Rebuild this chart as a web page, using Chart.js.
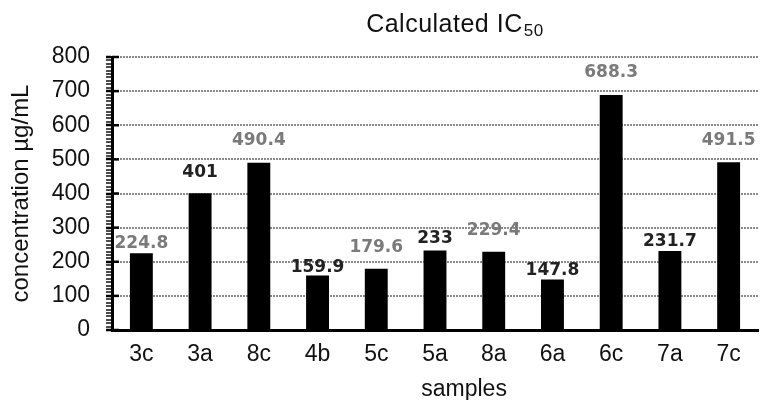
<!DOCTYPE html>
<html>
<head>
<meta charset="utf-8">
<script src="https://cdn.jsdelivr.net/npm/chart.js@4"></script>
<style>
  body { margin: 0; background: #fff; }
</style>
</head>
<body>
<canvas id="ic50Chart" width="770" height="400"></canvas>
<script>
/* DATA */
const samples = ["3c", "3a", "8c", "4b", "5c", "5a", "8a", "6a", "6c", "7a", "7c"];
const ic50 = [224.8, 401, 490.4, 159.9, 179.6, 233, 229.4, 147.8, 688.3, 231.7, 491.5];
const valueLabels = ["224.8", "401", "490.4", "159.9", "179.6", "233", "229.4", "147.8", "688.3", "231.7", "491.5"];
const yTicks = [0, 100, 200, 300, 400, 500, 600, 700, 800];

/* label look (kept apart from the data) */
const labelLift = [10, 21, 22, 8, 21, 12, 21, 9, 23, 9, 22];
const labelGrey = "#7a7a7a", labelDark = "#222";

const FONT = "'Liberation Sans', Arial, sans-serif";

/* titles + value labels drawn on the canvas */
const textPlugin = {
  id: "texts",
  afterDatasetsDraw(chart) {
    const ctx = chart.ctx;
    const meta = chart.getDatasetMeta(0);
    ctx.save();
    ctx.font = "bold 17px 'DejaVu Sans', sans-serif";
    ctx.textAlign = "center";
    ctx.textBaseline = "middle";
    meta.data.forEach((bar, i) => {
      ctx.fillStyle = i % 2 === 0 ? labelGrey : labelDark;
      ctx.fillText(valueLabels[i], bar.x, bar.y - labelLift[i]);
    });
    ctx.restore();
  },
  afterDraw(chart) {
    const ctx = chart.ctx;
    const area = chart.chartArea;
    ctx.save();
    ctx.fillStyle = "#111";
    ctx.textBaseline = "alphabetic";
    ctx.textAlign = "left";

    // main title with subscript
    ctx.letterSpacing = "0.5px";
    ctx.font = "25px " + FONT;
    const main = "Calculated IC";
    const wMain = ctx.measureText(main).width;
    ctx.font = "17px " + FONT;
    const wSub = ctx.measureText("50").width;
    const cx = area.left + (area.right - area.left) * 0.53;
    const x0 = cx - (wMain + wSub) / 2;
    ctx.font = "25px " + FONT;
    ctx.fillText(main, x0, 32);
    ctx.font = "17px " + FONT;
    ctx.fillText("50", x0 + wMain + 1, 36);

    // x axis title
    ctx.letterSpacing = "0px";
    ctx.font = "23px " + FONT;
    ctx.textAlign = "center";
    ctx.fillText("samples", area.left + (area.right - area.left) * 0.545, 396);

    // axis ticks at every hundred cross the y axis line
    const y = chart.scales.y;
    ctx.strokeStyle = "#000";
    ctx.lineWidth = 2.5;
    yTicks.forEach(v => {
      const py = y.getPixelForValue(v);
      ctx.beginPath();
      ctx.moveTo(area.left, py);
      ctx.lineTo(area.left + 7, py);
      ctx.stroke();
    });
    ctx.restore();
  }
};

new Chart(document.getElementById("ic50Chart"), {
  type: "bar",
  data: {
    labels: samples,
    datasets: [{
      data: ic50,
      backgroundColor: "#000",
      borderWidth: 0,
      barPercentage: 0.39,
      categoryPercentage: 1
    }]
  },
  options: {
    responsive: false,
    animation: false,
    layout: { padding: { top: 57, right: 12, bottom: 0, left: 0 } },
    plugins: {
      legend: { display: false },
      tooltip: { enabled: false },
      title: { display: false }
    },
    scales: {
      x: {
        afterFit: s => { s.height = 70; },
        grid: { display: false, drawTicks: false },
        border: { display: true, color: "#000", width: 3 },
        ticks: {
          color: "#111",
          padding: 11,
          font: { family: FONT, size: 23 },
          maxRotation: 0
        }
      },
      y: {
        min: 0,
        max: 800,
        afterFit: s => { s.width = 112; },
        border: { display: true, color: "#000", width: 3, dash: [2, 1] },
        grid: {
          color: c => (c.tick && c.tick.value % 100 === 0 && c.tick.value > 0) ? "#8a8a8a" : "rgba(0,0,0,0)",
          lineWidth: 2,
          tickColor: "#000",
          tickLength: 6,
          tickWidth: c => (c.tick && c.tick.value % 100 === 0) ? 2.5 : 1.4
        },
        title: {
          display: true,
          text: "concentration µg/mL",
          color: "#111",
          font: { family: FONT, size: 24 },
          padding: { top: 7, bottom: 0 }
        },
        ticks: {
          stepSize: 10,
          maxTicksLimit: 100,
          autoSkip: false,
          padding: 16,
          color: "#111",
          font: { family: FONT, size: 23 },
          callback: v => yTicks.includes(v) ? String(v) : ""
        }
      }
    }
  },
  plugins: [textPlugin]
});
</script>
</body>
</html>
